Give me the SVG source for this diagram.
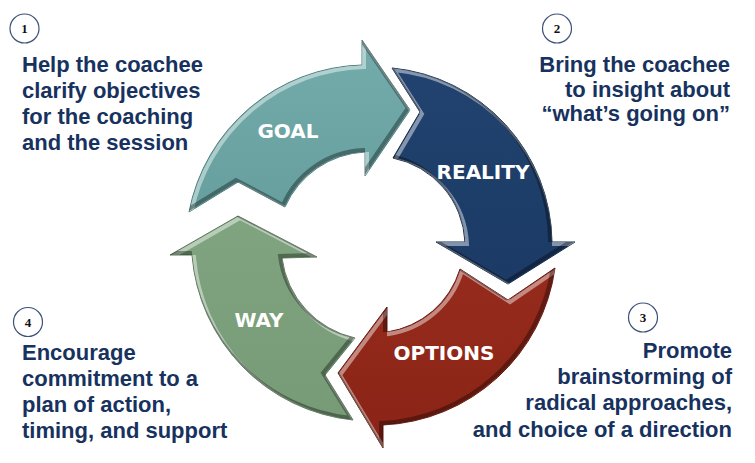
<svg xmlns="http://www.w3.org/2000/svg" xmlns:xlink="http://www.w3.org/1999/xlink" width="755" height="463" viewBox="0 0 755 463">
<style>
.lbl{font-family:"DejaVu Sans",Verdana,sans-serif;font-weight:bold;font-size:20px;fill:#ffffff;text-anchor:middle}
.desc{font-family:"Liberation Sans",Arial,sans-serif;font-weight:bold;font-size:22px;fill:#17325e}
.num{font-family:"Liberation Serif","Times New Roman",serif;font-weight:bold;font-size:13px;fill:#111111;text-anchor:middle}
.badge{fill:#ffffff;stroke:#3d5278;stroke-width:1.2}
.hl{fill:none;stroke:#ffffff;stroke-opacity:0.45;stroke-width:4}
.sh{fill:none;stroke:#000000;stroke-opacity:0.35;stroke-width:4}
</style>
<defs>
<path id="p-goal" d="M189,212 A181,181 0 0 1 362,65 L362,40 L410,110 L365,176 L365,152 A92,92 0 0 0 285,207 L238,182 Z"/>
<path id="p-reality" d="M392,68 A177,177 0 0 1 552,242 L575,242 L508,284 L436,242 L465,242 A90,90 0 0 0 393,158 L420,112 Z"/>
<path id="p-options" d="M555,268 A182,182 0 0 1 383,425 L383,448 L338,373 L387,307 L387,332 A90,90 0 0 0 460,269 L508,300 Z"/>
<path id="p-way" d="M353,420 A180,180 0 0 1 192,255 L170,255 L238,216 L317,257 L282,258 A94,94 0 0 0 355,338 L325,375 Z"/>
<clipPath id="c-goal"><use xlink:href="#p-goal"/></clipPath>
<clipPath id="c-reality"><use xlink:href="#p-reality"/></clipPath>
<clipPath id="c-options"><use xlink:href="#p-options"/></clipPath>
<clipPath id="c-way"><use xlink:href="#p-way"/></clipPath>
<linearGradient id="g-goal" x1="0" y1="0" x2="0" y2="1"><stop offset="0" stop-color="#74abab"/><stop offset="1" stop-color="#679f9f"/></linearGradient>
<linearGradient id="g-reality" x1="0" y1="0" x2="0" y2="1"><stop offset="0" stop-color="#22436f"/><stop offset="1" stop-color="#1b3a66"/></linearGradient>
<linearGradient id="g-options" x1="0" y1="0" x2="0" y2="1"><stop offset="0" stop-color="#962b1d"/><stop offset="1" stop-color="#8a2416"/></linearGradient>
<linearGradient id="g-way" x1="0" y1="0" x2="0" y2="1"><stop offset="0" stop-color="#80a480"/><stop offset="1" stop-color="#779b77"/></linearGradient>
</defs>

<g id="connectors"></g>

<g id="goal">
<use xlink:href="#p-goal" fill="url(#g-goal)" stroke="#4f8080" stroke-width="1"/>
<g clip-path="url(#c-goal)">
<use xlink:href="#p-goal" class="hl" transform="translate(2,2)"/>
<use xlink:href="#p-goal" class="sh" transform="translate(-2,-2)"/>
</g>
<text class="lbl" x="288" y="138">GOAL</text>
</g>

<g id="reality">
<use xlink:href="#p-reality" fill="url(#g-reality)" stroke="#132b4c" stroke-width="1"/>
<g clip-path="url(#c-reality)">
<use xlink:href="#p-reality" class="hl" transform="translate(2,2)"/>
<use xlink:href="#p-reality" class="sh" transform="translate(-2,-2)"/>
</g>
<text class="lbl" x="483" y="179">REALITY</text>
</g>

<g id="options">
<use xlink:href="#p-options" fill="url(#g-options)" stroke="#651a10" stroke-width="1"/>
<g clip-path="url(#c-options)">
<use xlink:href="#p-options" class="hl" transform="translate(2,2)"/>
<use xlink:href="#p-options" class="sh" transform="translate(-2,-2)"/>
</g>
<text class="lbl" x="444" y="360">OPTIONS</text>
</g>

<g id="way">
<use xlink:href="#p-way" fill="url(#g-way)" stroke="#587a58" stroke-width="1"/>
<g clip-path="url(#c-way)">
<use xlink:href="#p-way" class="hl" transform="translate(2,2)"/>
<use xlink:href="#p-way" class="sh" transform="translate(-2,-2)"/>
</g>
<text class="lbl" x="259" y="327">WAY</text>
</g>

<g id="step1">
<circle class="badge" cx="24.5" cy="28.5" r="14.5"/>
<text class="num" x="24.5" y="33">1</text>
<text class="desc" x="22" y="72">Help the coachee</text>
<text class="desc" x="22" y="98">clarify objectives</text>
<text class="desc" x="22" y="124">for the coaching</text>
<text class="desc" x="22" y="150">and the session</text>
</g>

<g id="step2">
<circle class="badge" cx="557" cy="28.5" r="14.5"/>
<text class="num" x="557" y="33">2</text>
<text class="desc" x="730" y="72" text-anchor="end">Bring the coachee</text>
<text class="desc" x="730" y="97" text-anchor="end">to insight about</text>
<text class="desc" x="730" y="121" text-anchor="end">“what’s going on”</text>
</g>

<g id="step3">
<circle class="badge" cx="643" cy="317.5" r="14.5"/>
<text class="num" x="643" y="322">3</text>
<text class="desc" x="732" y="358" text-anchor="end">Promote</text>
<text class="desc" x="732" y="384" text-anchor="end">brainstorming of</text>
<text class="desc" x="732" y="410" text-anchor="end">radical approaches,</text>
<text class="desc" x="732" y="437" text-anchor="end">and choice of a direction</text>
</g>

<g id="step4">
<circle class="badge" cx="28" cy="322" r="14.5"/>
<text class="num" x="28" y="326.5">4</text>
<text class="desc" x="22" y="360">Encourage</text>
<text class="desc" x="22" y="386">commitment to a</text>
<text class="desc" x="22" y="412">plan of action,</text>
<text class="desc" x="22" y="438">timing, and support</text>
</g>
</svg>
